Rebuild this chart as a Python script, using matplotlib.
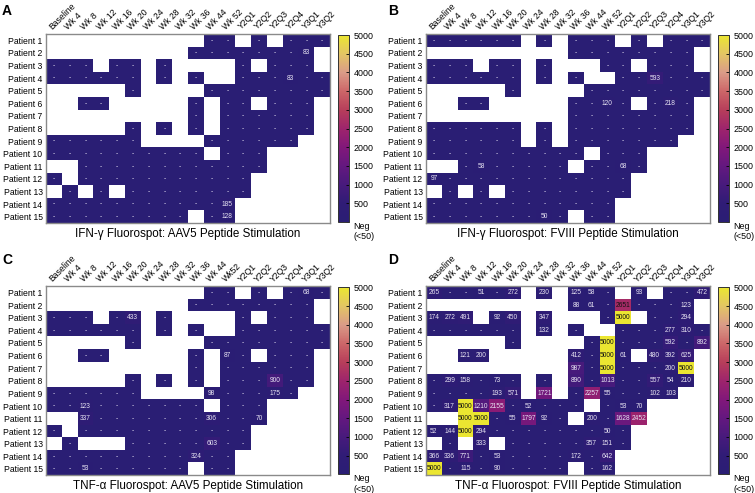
import numpy as np
import matplotlib.pyplot as plt
from matplotlib.colors import LinearSegmentedColormap

plt.rcParams['font.family'] = ['Liberation Sans', 'DejaVu Sans']

_ = None   # not sampled
N = 0      # Neg (<50)

timepoints = ['Baseline', 'Wk 4', 'Wk 8', 'Wk 12', 'Wk 16', 'Wk 20', 'Wk 24', 'Wk 28', 'Wk 32',
              'Wk 36', 'Wk 44', 'Wk 52', 'Y2Q1', 'Y2Q2', 'Y2Q3', 'Y2Q4', 'Y3Q1', 'Y3Q2']
timepoints_c = timepoints[:11] + ['Wk52'] + timepoints[12:]
patients = ['Patient %d' % i for i in range(1, 16)]

# IFN-g, AAV5 peptides
ifn_aav5 = [
    [_, _, _, _, _, _, _, _, _, _, N, N, _, N, _, N, N, N],
    [_, _, _, _, _, _, _, _, _, N, N, N, N, N, N, N, 83, _],
    [N, N, N, _, N, N, _, N, _, _, _, _, N, _, N, N, N, _],
    [N, N, N, N, N, N, _, N, _, N, _, _, N, N, N, 83, N, N],
    [_, _, _, _, _, N, _, _, _, _, N, N, N, N, N, N, N, N],
    [_, _, N, N, _, _, _, _, _, N, _, N, N, _, N, N, N, _],
    [_, _, _, _, _, _, _, _, _, N, _, N, N, N, N, N, N, _],
    [_, _, _, _, _, N, _, N, _, N, _, N, N, N, N, N, N, _],
    [N, N, N, N, N, N, _, _, _, _, N, N, N, N, N, N, _, _],
    [N, N, N, N, N, N, N, N, N, N, _, N, N, N, _, _, _, _],
    [_, _, N, N, N, N, N, N, N, N, N, N, N, N, _, _, _, _],
    [N, _, N, N, N, N, N, N, N, N, N, N, N, _, _, _, _, _],
    [_, N, _, N, _, N, N, N, N, N, N, N, N, _, _, _, _, _],
    [N, N, N, N, N, N, N, N, N, N, N, 185, _, _, _, _, _, _],
    [N, N, N, N, N, N, N, N, N, _, N, 128, _, _, _, _, _, _],
]

# IFN-g, FVIII peptides
ifn_fviii = [
    [N, N, N, N, N, N, _, N, _, N, N, N, _, N, _, N, N, N],
    [_, _, _, _, _, _, _, _, _, N, N, N, N, N, N, N, N, _],
    [N, N, N, _, N, N, _, N, _, _, _, N, N, _, N, N, N, _],
    [N, N, N, N, N, N, _, N, _, N, _, _, N, N, 593, N, N, N],
    [_, _, _, _, _, N, _, _, _, _, N, N, N, N, N, N, N, N],
    [_, _, N, N, _, _, _, _, _, N, N, 120, N, _, N, 218, N, _],
    [_, _, _, _, _, _, _, _, _, N, N, N, N, N, N, N, N, _],
    [N, N, N, N, N, N, _, N, _, N, N, N, N, N, N, N, N, _],
    [N, N, N, N, N, N, _, N, _, N, N, N, N, N, N, N, _, _],
    [N, N, N, N, N, N, N, N, N, N, _, N, N, N, _, _, _, _],
    [_, _, N, 58, N, N, N, N, N, _, N, N, 68, N, _, _, _, _],
    [97, N, N, N, N, N, N, N, N, N, N, N, N, _, _, _, _, _],
    [_, N, _, N, _, N, N, N, N, N, N, N, N, _, _, _, _, _],
    [N, N, N, N, N, N, N, N, N, N, N, N, _, _, _, _, _, _],
    [N, N, N, N, N, N, N, 50, N, _, N, N, _, _, _, _, _, _],
]

# TNF-a, AAV5 peptides
tnf_aav5 = [
    [_, _, _, _, _, _, _, _, _, _, N, N, _, N, _, N, 68, N],
    [_, _, _, _, _, _, _, _, _, N, N, N, N, N, N, N, N, _],
    [N, N, N, _, N, 433, _, N, _, _, _, _, N, _, N, N, N, _],
    [N, N, N, N, N, N, _, N, _, N, _, _, N, N, N, N, N, N],
    [_, _, _, _, _, N, _, _, _, _, N, N, N, N, N, N, N, N],
    [_, _, N, N, _, _, _, _, _, N, _, 87, N, _, N, N, N, _],
    [_, _, _, _, _, _, _, _, _, N, _, N, N, N, N, N, N, _],
    [_, _, _, _, _, N, _, N, _, N, _, N, N, N, 900, N, N, _],
    [N, N, N, N, N, N, _, _, _, _, 98, N, N, N, 175, N, _, _],
    [N, N, 123, N, N, N, N, N, N, N, _, N, N, N, _, _, _, _],
    [_, _, 337, N, N, N, N, N, N, N, 306, N, N, 70, _, _, _, _],
    [N, _, N, N, N, N, N, N, N, N, N, N, N, _, _, _, _, _],
    [_, N, _, _, _, N, N, N, N, N, 603, N, N, _, _, _, _, _],
    [N, N, N, N, N, N, N, N, N, 324, N, N, _, _, _, _, _, _],
    [N, N, 53, N, N, N, N, N, N, _, N, N, _, _, _, _, _, _],
]

# TNF-a, FVIII peptides
tnf_fviii = [
    [265, N, N, 51, N, 272, _, 230, _, 125, 58, N, _, 93, _, N, N, 472],
    [_, _, _, _, _, _, _, _, _, 88, 61, N, 2651, N, N, N, 123, _],
    [174, 272, 491, _, 92, 450, _, 347, _, _, _, N, 5000, _, N, N, 294, _],
    [N, N, N, N, N, N, _, 132, _, N, _, _, N, N, N, 277, 310, N],
    [_, _, _, _, _, N, _, _, _, _, N, 5000, N, N, N, 592, N, 892],
    [_, _, 121, 200, _, _, _, _, _, 412, N, 5000, 61, _, 480, 392, 625, _],
    [_, _, _, _, _, _, _, _, _, 987, N, 5000, N, N, N, 200, 5000, _],
    [N, 299, 158, N, 73, N, _, N, _, 890, N, 1013, N, N, 557, 54, 210, _],
    [N, N, N, N, 193, 571, _, 1721, _, N, 2257, 55, N, N, 102, 103, _, _],
    [N, 317, 5000, 1210, 2155, N, 52, N, N, N, _, N, 53, 70, _, _, _, _],
    [_, _, 5000, 5000, N, 55, 1797, 92, N, _, 200, N, 1628, 2452, _, _, _, _],
    [52, 144, 5000, 294, N, N, N, N, N, N, N, 50, N, _, _, _, _, _],
    [_, N, _, 333, _, N, N, N, N, N, 357, 151, N, _, _, _, _, _],
    [366, 336, 771, N, 53, N, N, N, N, 172, N, 642, _, _, _, _, _, _],
    [5000, N, 115, N, 90, N, N, N, N, _, N, 162, _, _, _, _, _, _],
]

cmap = LinearSegmentedColormap.from_list('spot', [
    (0.0, '#2a1e74'), (0.1, '#301c76'), (0.2, '#481a7c'), (0.3, '#64187f'),
    (0.4, '#82187a'), (0.5, '#9e246c'), (0.6, '#b73e5a'), (0.7, '#cc6668'),
    (0.8, '#da9b88'), (0.9, '#e3c564'), (1.0, '#ebe631')])
cmap.set_bad('white')

fig = plt.figure(figsize=(7.55, 4.93), dpi=100)

panels = [
    ('A', ifn_aav5, timepoints, u'IFN-\u03b3 Fluorospot: AAV5 Peptide Stimulation', 0, 0),
    ('B', ifn_fviii, timepoints, u'IFN-\u03b3 Fluorospot: FVIII Peptide Stimulation', 1, 0),
    ('C', tnf_aav5, timepoints_c, u'TNF-\u03b1 Fluorospot: AAV5 Peptide Stimulation', 0, 1),
    ('D', tnf_fviii, timepoints, u'TNF-\u03b1 Fluorospot: FVIII Peptide Stimulation', 1, 1),
]

W, H = 755.0, 493.0
for letter, grid, cols, title, ci, ri in panels:
    x0 = 46 + 380 * ci
    y0 = 34 + 252.3 * ri
    ax = fig.add_axes([x0 / W, 1 - (y0 + 189) / H, 284 / W, 189 / H])
    vals = np.array([[np.nan if v is None else v for v in row] for row in grid], dtype=float)
    im = ax.imshow(np.ma.masked_invalid(vals), cmap=cmap, vmin=0, vmax=5000,
                   aspect='auto', interpolation='nearest')
    for i, row in enumerate(grid):
        for j, v in enumerate(row):
            if v is None:
                continue
            txt = '-' if v == 0 else str(v)
            c = '#111111' if v >= 2600 else '#e6e2f2'
            ax.text(j, i, txt, ha='center', va='center', fontsize=4.8, color=c)
    ax.xaxis.tick_top()
    ax.set_xticks(range(len(cols)))
    ax.set_xticklabels(cols, rotation=45, ha='left', va='bottom', rotation_mode='anchor', fontsize=6.2)
    ax.set_yticks(range(len(patients)))
    ax.set_yticklabels(patients, fontsize=6.2)
    ax.tick_params(length=0, pad=2.5)
    ax.tick_params(axis='x', pad=2)
    for s in ax.spines.values():
        s.set_color('#8a8a8a')
        s.set_linewidth(1.0)

    cax = fig.add_axes([(x0 + 291.5) / W, 1 - (y0 + 188) / H, 11 / W, 187 / H])
    cb = fig.colorbar(im, cax=cax, ticks=np.arange(0, 5001, 500))
    cb.set_ticklabels(['Neg\n(<50)'] + [str(t) for t in range(500, 5001, 500)])
    cb.outline.set_linewidth(0.7)
    cb.outline.set_edgecolor('#333333')
    cax.tick_params(direction='in', length=2, width=0.6, labelsize=6.4, pad=3.5)
    cax.get_yticklabels()[0].set_verticalalignment('top')

    fig.text((x0 + 142) / W, 1 - (y0 + 200) / H, title, ha='center', va='center', fontsize=8.4)
    fig.text((2 + 386 * ci) / W, 1 - (4 + 249 * ri) / H, letter, ha='left', va='top',
             fontsize=10, fontweight='bold')

fig.savefig('out.png', dpi=100)
